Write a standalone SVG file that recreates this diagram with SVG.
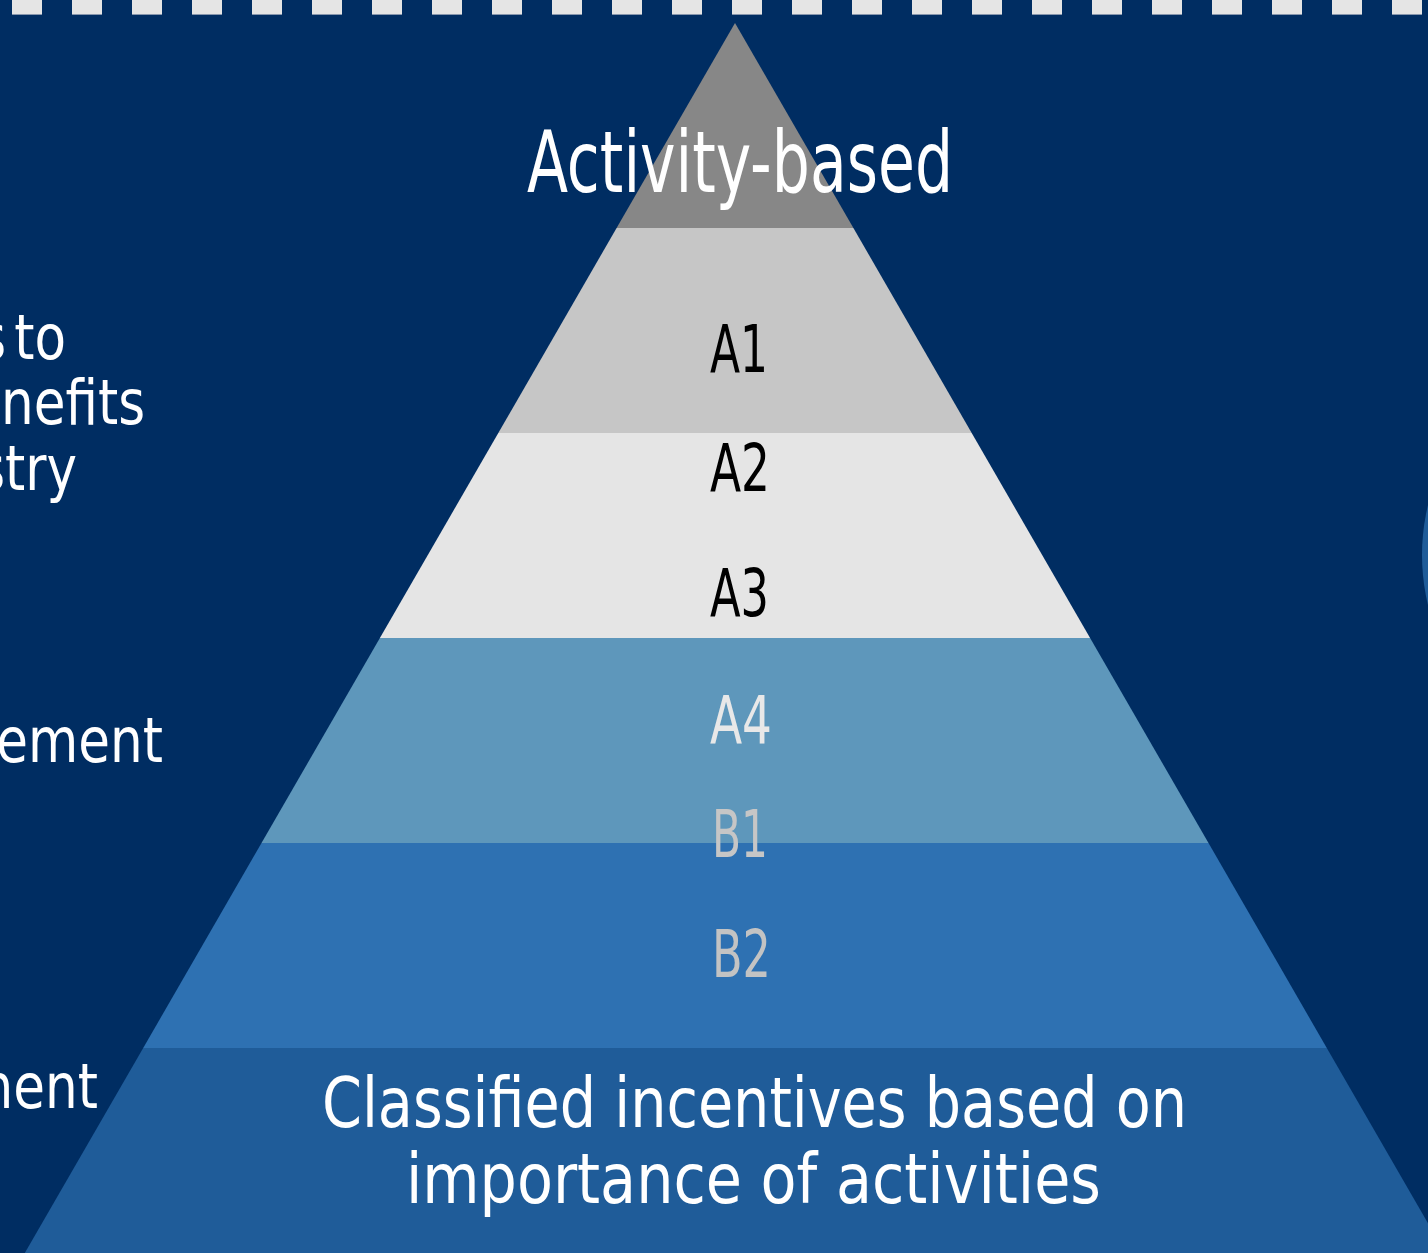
<svg xmlns="http://www.w3.org/2000/svg" width="1428" height="1253" viewBox="0 0 1428 1253">
<defs>
<style>
.t{font-family:"Liberation Sans Narrow","DejaVu Sans Condensed","Liberation Sans",sans-serif;}
.w{fill:#ffffff;}
.lab{font-size:66px;text-anchor:middle;}
.side{font-size:62px;text-anchor:end;fill:#ffffff;}
</style>
<pattern id="dashes" x="12" y="0" width="60" height="15" patternUnits="userSpaceOnUse">
<rect x="0" y="0" width="30" height="14" fill="#e5e5e5"/>
<rect x="0" y="14" width="30" height="1" fill="#8796ad"/>
</pattern>
</defs>
<rect x="0" y="0" width="1428" height="1253" fill="#002d62"/>
<g id="top-strip">
<rect x="0" y="0" width="1428" height="15" fill="url(#dashes)"/>
</g>
<g id="right-circle">
<circle cx="1633" cy="555" r="211" fill="#1f5c99"/>
</g>
<g id="side-labels" transform="scale(0.925 1)">
<text class="t side" x="71.4" y="359" word-spacing="-9">s to</text>
<text class="t side" x="156.8" y="424">nefits</text>
<text class="t side" x="83.2" y="490">stry</text>
<text class="t side" x="176.2" y="762">ement</text>
<text class="t side" x="105.9" y="1108">nent</text>
</g>
<g id="pyramid">
<g id="band-top">
<polygon points="735,23 853.4,228 616.6,228" fill="#878787"/>
</g>
<g id="band-a1">
<polygon points="616.6,228 853.4,228 971.7,433 498.3,433" fill="#c6c6c6"/>
<text class="t lab" x="739" y="372" textLength="58" lengthAdjust="spacingAndGlyphs" fill="#000000">A1</text>
</g>
<g id="band-a2-a3">
<polygon points="498.3,433 971.7,433 1090.1,638 379.9,638" fill="#e5e5e5"/>
<text class="t lab" x="740" y="491" textLength="60" lengthAdjust="spacingAndGlyphs" fill="#000000">A2</text>
<text class="t lab" x="739.5" y="616" textLength="59" lengthAdjust="spacingAndGlyphs" fill="#000000">A3</text>
</g>
<g id="band-a4-b1">
<polygon points="379.9,638 1090.1,638 1208.5,843 261.5,843" fill="#5e97bb"/>
<text class="t lab" x="741" y="743" textLength="62" lengthAdjust="spacingAndGlyphs" fill="#e8e8e8">A4</text>
</g>
<g id="band-b2">
<polygon points="261.5,843 1208.5,843 1326.8,1048 143.2,1048" fill="#2e71b2"/>
<text class="t lab" x="740" y="857" textLength="56" lengthAdjust="spacingAndGlyphs" fill="#c6c6c6">B1</text>
<text class="t lab" x="741.5" y="977" textLength="59" lengthAdjust="spacingAndGlyphs" fill="#c3c3c3">B2</text>
</g>
<g id="band-bottom">
<polygon points="143.2,1048 1326.8,1048 1445.2,1253 24.8,1253" fill="#1f5c99"/>
<text class="t w" x="754.5" y="1127" font-size="70" text-anchor="middle" textLength="865" lengthAdjust="spacingAndGlyphs">Classified incentives based on</text>
<text class="t w" x="753.5" y="1203" font-size="70" text-anchor="middle" textLength="695" lengthAdjust="spacingAndGlyphs">importance of activities</text>
</g>
<text id="title" class="t w" x="740" y="192" font-size="86" text-anchor="middle" textLength="426" lengthAdjust="spacingAndGlyphs">Activity-based</text>
</g>
</svg>
